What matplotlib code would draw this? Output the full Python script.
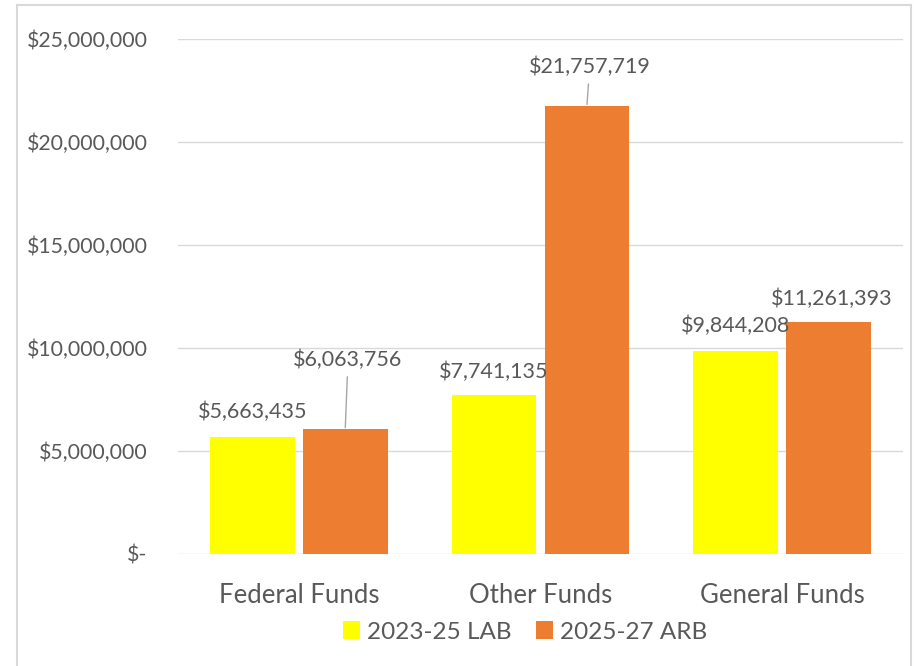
import numpy as np
import matplotlib.pyplot as plt
from matplotlib.lines import Line2D
from matplotlib.ticker import FuncFormatter

plt.rcParams['font.family'] = ['Lato', 'DejaVu Sans']

# data
categories = ['Federal Funds', 'Other Funds', 'General Funds']
series_names = ['2023-25 LAB', '2025-27 ARB']
lab_2023 = [5663435, 7741135, 9844208]
arb_2025 = [6063756, 21757719, 11261393]

colors = ['#FFFF00', '#ED7D31']
txt = '#595959'
grid = '#D9D9D9'

# label offsets above bar tops (points) and whether a leader line is drawn
lab_off = [18, 16, 18]
arb_off = [50, 28, 17]
arb_leader = [True, True, False]

fig = plt.figure(figsize=(9.19, 6.66), dpi=100)
ax = fig.add_axes([178/919, 112/666, 725/919, 515/666])

x = np.arange(len(categories))
w = 0.35
off = 0.192
ax.bar(x - off, lab_2023, w, color=colors[0], label=series_names[0])
ax.bar(x + off, arb_2025, w, color=colors[1], label=series_names[1])

def fmt(v):
    return '${:,.0f}'.format(v)

for i, v in enumerate(lab_2023):
    ax.annotate(fmt(v), (x[i] - off, v), xytext=(0, lab_off[i]), textcoords='offset points',
                ha='center', va='center', fontsize=15.5, color=txt)
for i, v in enumerate(arb_2025):
    if arb_leader[i]:
        ax.annotate(fmt(v), (x[i] + off, v), xytext=(2, arb_off[i]), textcoords='offset points',
                    ha='center', va='center', fontsize=15.5, color=txt,
                    arrowprops=dict(arrowstyle='-', color='#A6A6A6', lw=1, shrinkA=3, shrinkB=1))
    else:
        ax.annotate(fmt(v), (x[i] + off, v), xytext=(2, arb_off[i]), textcoords='offset points',
                    ha='center', va='center', fontsize=15.5, color=txt)

ax.set_xlim(-0.5, 2.5)
ax.set_ylim(0, 25000000)
ax.set_yticks(np.arange(0, 25000001, 5000000))
ax.yaxis.set_major_formatter(FuncFormatter(lambda v, p: '$-' if v == 0 else fmt(v)))
ax.set_xticks(x)
ax.set_xticklabels(categories)
ax.tick_params(axis='both', length=0, colors=txt)
ax.tick_params(axis='y', pad=22, labelsize=15.3)
ax.tick_params(axis='x', pad=21, labelsize=18.5)
ax.grid(axis='y', color=grid, lw=1)
ax.set_axisbelow(True)
for s in ax.spines.values():
    s.set_visible(False)

ax.legend(loc='center', bbox_to_anchor=(525/919, 34/666), bbox_transform=fig.transFigure,
          ncol=2, frameon=False, fontsize=17.5, labelcolor=txt, handlelength=0.7,
          handleheight=0.7, handletextpad=0.3, columnspacing=1.0)

# outer frame
fx0, fx1, fy1 = 17/919, 911/919, 661/666
for xs, ys in [([fx0, fx0], [0, fy1]), ([fx0, fx1], [fy1, fy1]), ([fx1, fx1], [fy1, 0])]:
    fig.add_artist(Line2D(xs, ys, color=grid, lw=1.5, transform=fig.transFigure))

fig.savefig('out.png', dpi=100)
